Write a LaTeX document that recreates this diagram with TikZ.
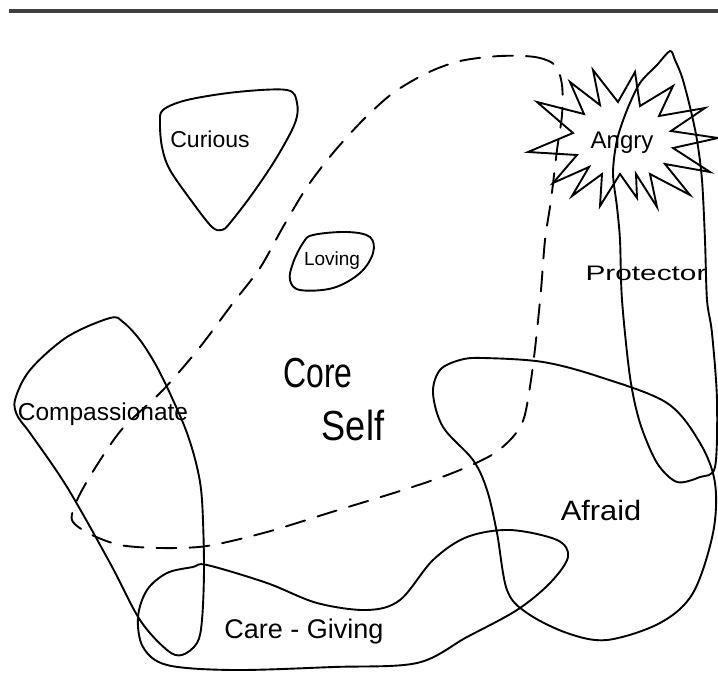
\documentclass[tikz,border=0pt]{standalone}
\usepackage{fontspec}
\setmainfont{Liberation Sans}
\begin{document}
\begin{tikzpicture}[x=1pt,y=-1pt,line join=round,line cap=round,
  blob/.style={draw=black,line width=1.9pt},
  coreline/.style={draw=black,line width=1.9pt,dash pattern=on 20pt off 13pt},
  lbl/.style={anchor=base,inner sep=0pt,text=black}]
\useasboundingbox (0,0) rectangle (718,697);
% top rule
\draw[line width=3.2pt,draw=black!75,line cap=butt] (9,11) -- (718,11);
% Curious
\draw[blob] plot[smooth cycle,tension=0.55] coordinates {
 (163,110) (187,100) (237,92) (287,90) (297,103) (295,123) (277,157)
 (253,193) (230,223) (222,230) (212,227) (193,203) (170,170) (162,147) (160,123)};
% Loving
\draw[blob] plot[smooth cycle,tension=0.6] coordinates {
 (313,235) (347,232) (370,237) (373,253) (360,273) (333,288) (300,290)
 (290,280) (293,263) (303,243)};
% Core Self dashed boundary
\draw[coreline] plot[smooth cycle,tension=0.5] coordinates {
 (500,56) (535,57) (555,65) (562,85) (562,115) (557,150) (551,200) (545,240)
 (541,290) (536,340) (531,380) (524,418) (512,438) (490,456) (450,474)
 (400,491) (335,511) (267,532) (207,546) (160,548) (120,545) (90,534)
 (72,520) (78,498) (97,465) (123,428) (163,390) (200,347) (233,303)
 (260,268) (283,227) (307,187) (333,153) (363,120) (393,93) (427,73) (460,61)};
% Compassionate
\draw[blob] plot[smooth cycle,tension=0.55] coordinates {
 (110,318) (123,322) (140,340) (157,367) (173,400) (187,433) (197,467)
 (202,500) (204,567) (202,620) (197,643) (182,655) (167,650) (140,620)
 (110,563) (67,487) (30,433) (18,417) (15,400) (30,370) (67,337)};
% Care-Giving
\draw[blob] plot[smooth cycle,tension=0.55] coordinates {
 (193,567) (207,565) (267,583) (317,603) (367,610) (400,600) (433,560)
 (467,537) (510,530) (557,540) (568,557) (550,583) (517,610) (467,637)
 (417,663) (333,667) (233,670) (167,665) (143,647) (138,617) (147,590) (167,573)};
% Afraid
\draw[blob] plot[smooth cycle,tension=0.55] coordinates {
 (460,360) (483,358) (543,362) (600,377) (667,403) (700,443) (715,483)
 (713,533) (693,593) (660,623) (607,640) (567,633) (527,613) (507,590)
 (497,533) (487,490) (473,460) (443,427) (433,393) (440,370)};
% Protector
\draw[blob] plot[smooth cycle,tension=0.5] coordinates {
 (670,51) (675,60) (682,77) (690,107) (697,140) (702,180) (705,240)
 (707,300) (712,333) (717,400) (715,467) (700,477) (677,482) (657,463)
 (640,423) (630,377) (622,300) (620,240) (617,207) (613,173) (617,140)
 (627,110) (640,83) (657,65)};
% Angry star
\draw[blob,line width=1.9pt,line join=miter] (570,82) -- (600,105) -- (593,70) -- (618,102)
 -- (635,72) -- (640,106) -- (673,86) -- (659,116) -- (705,108) -- (671,131)
 -- (718,138) -- (673,148) -- (710,172) -- (665,164) -- (690,195) -- (650,174)
 -- (657,207) -- (636,174) -- (637,198) -- (620,174) -- (600,206) -- (602,174)
 -- (572,196) -- (589,167) -- (553,183) -- (577,155) -- (528,152) -- (573,133)
 -- (537,102) -- (584,114) -- cycle;
% labels
\node[lbl,font=\fontsize{23}{26}\selectfont] (curious) at (210,147) {Curious};
\node[lbl,font=\fontsize{19}{22}\selectfont] (loving) at (332,265) {Loving};
\node[lbl,font=\fontsize{24}{27}\selectfont] (angry) at (622,148) {Angry};
\node[lbl,font=\fontsize{21}{24}\selectfont,xscale=1.42] (protector) at (646,280) {Protector};
\node[lbl,font=\fontsize{42}{46}\selectfont,xscale=0.76] (core) at (318,387) {Core};
\node[lbl,font=\fontsize{42}{46}\selectfont,xscale=0.86] (self) at (353,440) {Self};
\node[lbl,font=\fontsize{24.5}{27}\selectfont] (compassionate) at (103,420) {Compassionate};
\node[lbl,font=\fontsize{28}{31}\selectfont,xscale=1.1] (afraid) at (601,520) {Afraid};
\node[lbl,font=\fontsize{27}{30}\selectfont] (caregiving) at (304,638) {Care - Giving};
\end{tikzpicture}
\end{document}
